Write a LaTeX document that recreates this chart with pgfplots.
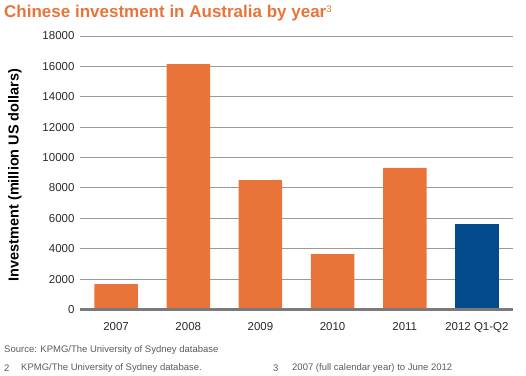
\documentclass[border=0pt]{standalone}
\usepackage{pgfplots}
\pgfplotsset{compat=1.18}
\usepackage{fontspec}
\setmainfont{Liberation Sans}
\definecolor{korange}{HTML}{E8743A}
\definecolor{kblue}{HTML}{034A8C}
\definecolor{kgrid}{HTML}{9A9A9A}
\definecolor{kbase}{HTML}{7A7A7A}
\definecolor{ktext}{HTML}{2A2A2A}
\definecolor{knote}{HTML}{5A5A5A}
\begin{document}
\begin{tikzpicture}[x=1pt,y=1pt]
\path[use as bounding box] (0,0) rectangle (526,375);
\begin{axis}[
  at={(80pt,65.5pt)}, anchor=south west,
  scale only axis, width=433pt, height=273.5pt,
  xmin=-0.5, xmax=5.5, ymin=0, ymax=18000,
  axis line style={draw=none},
  tick style={draw=none},
  ytick={0,2000,...,18000},
  xtick={0,1,2,3,4,5},
  xticklabels={2007,2008,2009,2010,2011,2012 Q1-Q2},
  ymajorgrids, grid style={kgrid, line width=0.9pt},
  scaled y ticks=false,
  /pgf/number format/assume math mode=true,
  yticklabel={\pgfmathprintnumber[fixed,1000 sep={}]{\tick}},
  yticklabel style={font=\fontsize{11.5}{12}\selectfont, text=ktext, xshift=-2pt},
  xticklabel style={font=\fontsize{11.5}{12}\selectfont, text=ktext, yshift=-5pt},
  ybar, bar width=43.5pt, bar shift=0pt,
  clip=false,
]
\addplot[fill=korange, draw=none] coordinates {(0,1670) (1,16150) (2,8520) (3,3650) (4,9320)};
\addplot[fill=kblue, draw=none] coordinates {(5,5650)};
\draw[kbase, line width=3pt] (axis cs:-0.5,0) -- (axis cs:5.5,0);
\end{axis}
\node[anchor=west, text=korange, font=\fontsize{17}{18}\selectfont\bfseries, inner sep=0pt] at (4,362) {Chinese investment in Australia by year\raisebox{5pt}{\fontsize{9.5}{10}\selectfont\mdseries 3}};
\node[rotate=90, font=\fontsize{14.5}{15}\selectfont\bfseries, text=black, inner sep=0pt] at (15,200) {Investment (million US dollars)};
\node[anchor=west, text=knote, font=\fontsize{9.5}{10}\selectfont, inner sep=0pt] at (4,25) {Source: KPMG/The University of Sydney database};
\node[anchor=west, text=knote, font=\fontsize{9.5}{10}\selectfont, inner sep=0pt] at (4,7) {2};
\node[anchor=west, text=knote, font=\fontsize{9.5}{10}\selectfont, inner sep=0pt] at (21,7) {KPMG/The University of Sydney database.};
\node[anchor=west, text=knote, font=\fontsize{9.5}{10}\selectfont, inner sep=0pt] at (273,7) {3};
\node[anchor=west, text=knote, font=\fontsize{9.5}{10}\selectfont, inner sep=0pt] at (292,7) {2007 (full calendar year) to June 2012};
\end{tikzpicture}
\end{document}
